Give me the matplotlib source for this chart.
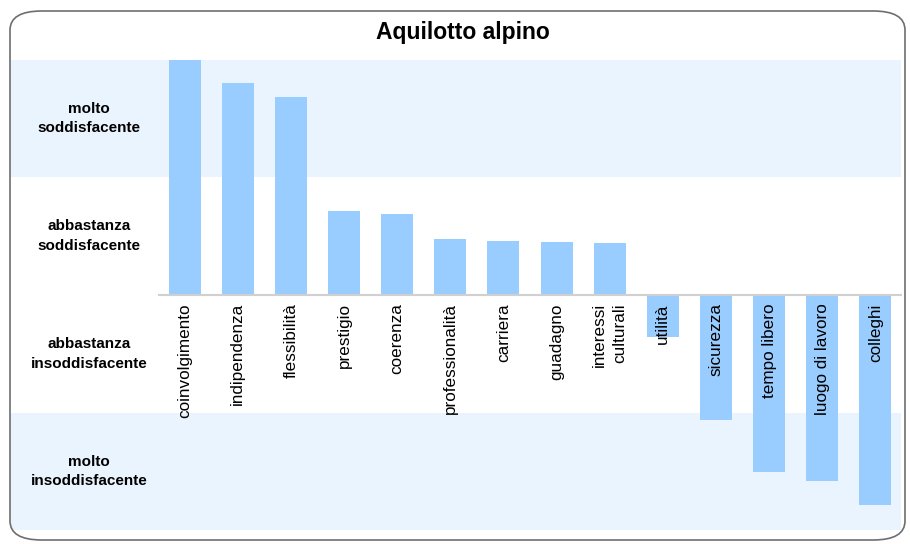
import matplotlib
matplotlib.use("Agg")
import matplotlib.pyplot as plt
from matplotlib.patches import FancyBboxPatch, Rectangle
import matplotlib.transforms as mtransforms

plt.rcParams['font.family'] = ['Liberation Sans', 'DejaVu Sans']

title = "Aquilotto alpino"
categories = ["coinvolgimento", "indipendenza", "flessibilità", "prestigio", "coerenza",
              "professionalità", "carriera", "guadagno", "interessi\nculturali", "utilità",
              "sicurezza", "tempo libero", "luogo di lavoro", "colleghi"]
values = [2.0, 1.80, 1.685, 0.715, 0.69, 0.477, 0.46, 0.45, 0.44,
          -0.36, -1.064, -1.51, -1.58, -1.79]
level_labels = ["molto\nsoddisfacente", "abbastanza\nsoddisfacente",
                "abbastanza\ninsoddisfacente", "molto\ninsoddisfacente"]
level_pos = [1.5, 0.5, -0.5, -1.5]

W, H = 910, 544
fig = plt.figure(figsize=(W / 100, H / 100), dpi=100, facecolor="white")

ax = fig.add_axes([158 / W, 1 - 530 / H, (902 - 158) / W, (530 - 60) / H])
ax.set_xlim(-0.5, len(categories) - 0.5)
ax.set_ylim(-2, 2)
ax.set_facecolor("none")
for s in ax.spines.values():
    s.set_visible(False)
ax.set_xticks([])
ax.set_yticks([])

band_color = "#EAF4FE"
trans = mtransforms.blended_transform_factory(fig.transFigure, ax.transData)
for lo, hi, c in [(1, 2, band_color), (-1, 1, "white"), (-2, -1, band_color)]:
    r = Rectangle((11 / W, lo), (901 - 11) / W, hi - lo, transform=trans,
                  facecolor=c, edgecolor="none", zorder=0, clip_on=False)
    ax.add_patch(r)

x = list(range(len(categories)))
ax.bar(x, values, width=0.6, color="#99CCFF", zorder=2)
ax.axhline(0, color="#d0d0d0", linewidth=1.5, zorder=3)

for i, lab in enumerate(categories):
    ax.text(i, -0.07, lab, rotation=90, ha="center", va="top",
            multialignment="right", fontsize=12.3, color="black", zorder=4,
            linespacing=1.4)

for pos, lab in zip(level_pos, level_labels):
    ax.text(89 / W, pos, lab, transform=trans, ha="center", va="center",
            fontsize=11, fontweight="bold", linespacing=1.5, zorder=4)

fig.text(463 / W, 1 - 33 / H, title, ha="center", va="center",
         fontsize=16.5, fontweight="bold")

# rounded frame on top
frame = FancyBboxPatch((10 / W, 4 / H), 895 / W, 529 / H,
                       boxstyle="round,pad=0,rounding_size=0.035",
                       transform=fig.transFigure, facecolor="none",
                       edgecolor="#6e6e6e", linewidth=1.2, zorder=10)
fig.add_artist(frame)

fig.savefig("out.png", dpi=100)
